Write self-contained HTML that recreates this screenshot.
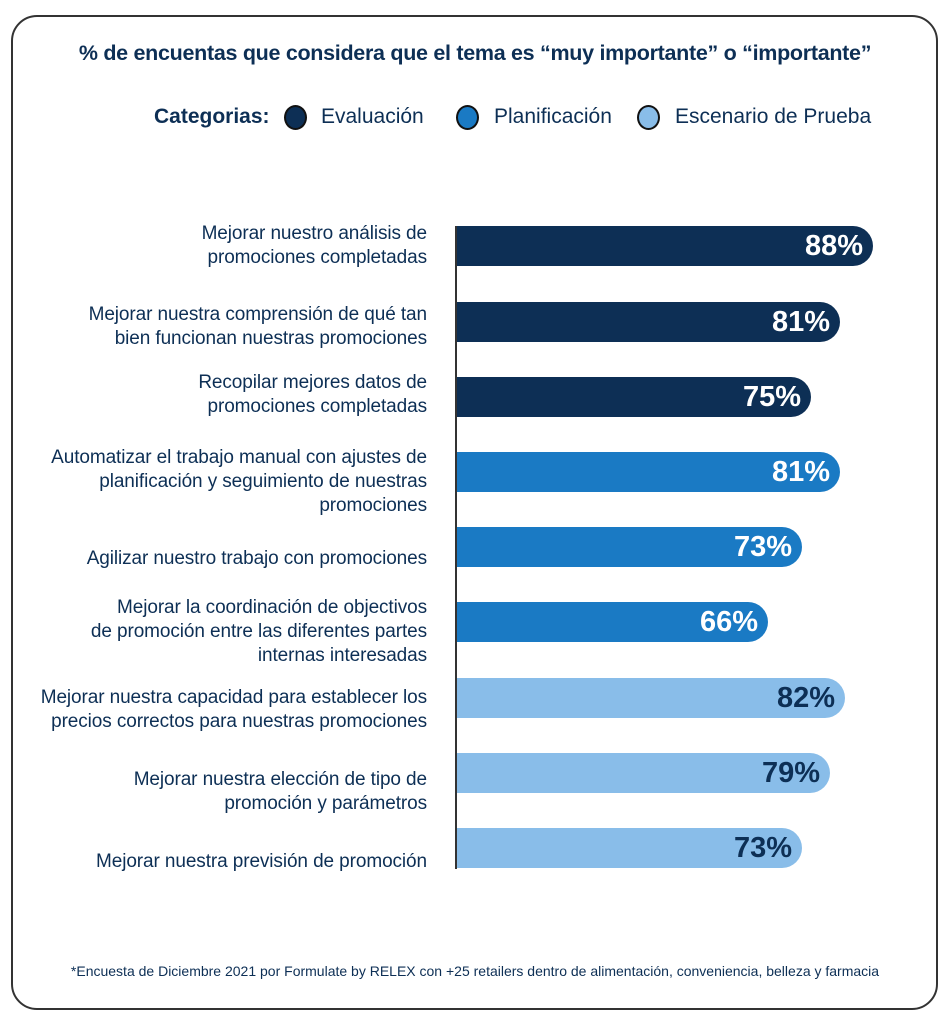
<!DOCTYPE html>
<html><head><meta charset="utf-8"><style>
body{margin:0;width:950px;height:1024px;background:#fff;font-family:"Liberation Sans",sans-serif;color:#0d2f55;position:relative;overflow:hidden}
.card{position:absolute;left:11px;top:15px;width:927px;height:995px;border:2px solid #333;border-radius:26px;box-sizing:border-box}
.t{position:absolute;left:0;width:950px;top:41px;text-align:center;font-weight:bold;font-size:21.5px;letter-spacing:-0.3px}
.leg{position:absolute;top:105px;font-size:21px;white-space:nowrap}
.dot{position:absolute;top:105px;width:23px;height:25px;border:2px solid #111;border-radius:50%;box-sizing:border-box}
.ax{position:absolute;left:455px;top:226px;width:2px;height:643px;background:#333}
.bar{position:absolute;left:457px;height:40px;border-radius:0 20px 20px 0;text-align:right;font-weight:bold;font-size:29px;line-height:40px;box-sizing:border-box;padding-right:10px;color:#fff}
.lab{position:absolute;right:523px;text-align:right;font-size:19px;line-height:24px;white-space:nowrap;letter-spacing:-0.1px}
.foot{position:absolute;left:0;width:950px;top:963px;text-align:center;font-size:14px}
</style></head><body>
<div class="card"></div>
<div class="t">% de encuentas que considera que el tema es “muy importante” o “importante”</div>
<div class="leg" style="left:154px;font-weight:bold">Categorias:</div>
<div class="dot" style="left:284px;background:#0d2f55"></div>
<div class="leg" style="left:321px">Evaluación</div>
<div class="dot" style="left:456px;background:#1a7ac4"></div>
<div class="leg" style="left:494px">Planificación</div>
<div class="dot" style="left:637px;background:#89bde9"></div>
<div class="leg" style="left:675px">Escenario de Prueba</div>
<div class="ax"></div>

<div class="bar" style="top:226px;width:416px;background:#0d2f55">88%</div>
<div class="bar" style="top:302px;width:383px;background:#0d2f55">81%</div>
<div class="bar" style="top:377px;width:354px;background:#0d2f55">75%</div>
<div class="bar" style="top:452px;width:383px;background:#1a7ac4">81%</div>
<div class="bar" style="top:527px;width:345px;background:#1a7ac4">73%</div>
<div class="bar" style="top:602px;width:311px;background:#1a7ac4">66%</div>
<div class="bar" style="top:678px;width:388px;background:#89bde9;color:#0d2f55">82%</div>
<div class="bar" style="top:753px;width:373px;background:#89bde9;color:#0d2f55">79%</div>
<div class="bar" style="top:828px;width:345px;background:#89bde9;color:#0d2f55">73%</div>

<div class="lab" style="top:222px">Mejorar nuestro análisis de<br>promociones completadas</div>
<div class="lab" style="top:303px">Mejorar nuestra comprensión de qué tan<br>bien funcionan nuestras promociones</div>
<div class="lab" style="top:371px">Recopilar mejores datos de<br>promociones completadas</div>
<div class="lab" style="top:446px">Automatizar el trabajo manual con ajustes de<br>planificación y seguimiento de nuestras<br>promociones</div>
<div class="lab" style="top:547px">Agilizar nuestro trabajo con promociones</div>
<div class="lab" style="top:596px">Mejorar la coordinación de objectivos<br>de promoción entre las diferentes partes<br>internas interesadas</div>
<div class="lab" style="top:686px">Mejorar nuestra capacidad para establecer los<br>precios correctos para nuestras promociones</div>
<div class="lab" style="top:768px">Mejorar nuestra elección de tipo de<br>promoción y parámetros</div>
<div class="lab" style="top:850px">Mejorar nuestra previsión de promoción</div>

<div class="foot">*Encuesta de Diciembre 2021 por Formulate by RELEX con +25 retailers dentro de alimentación, conveniencia, belleza y farmacia</div>
</body></html>
